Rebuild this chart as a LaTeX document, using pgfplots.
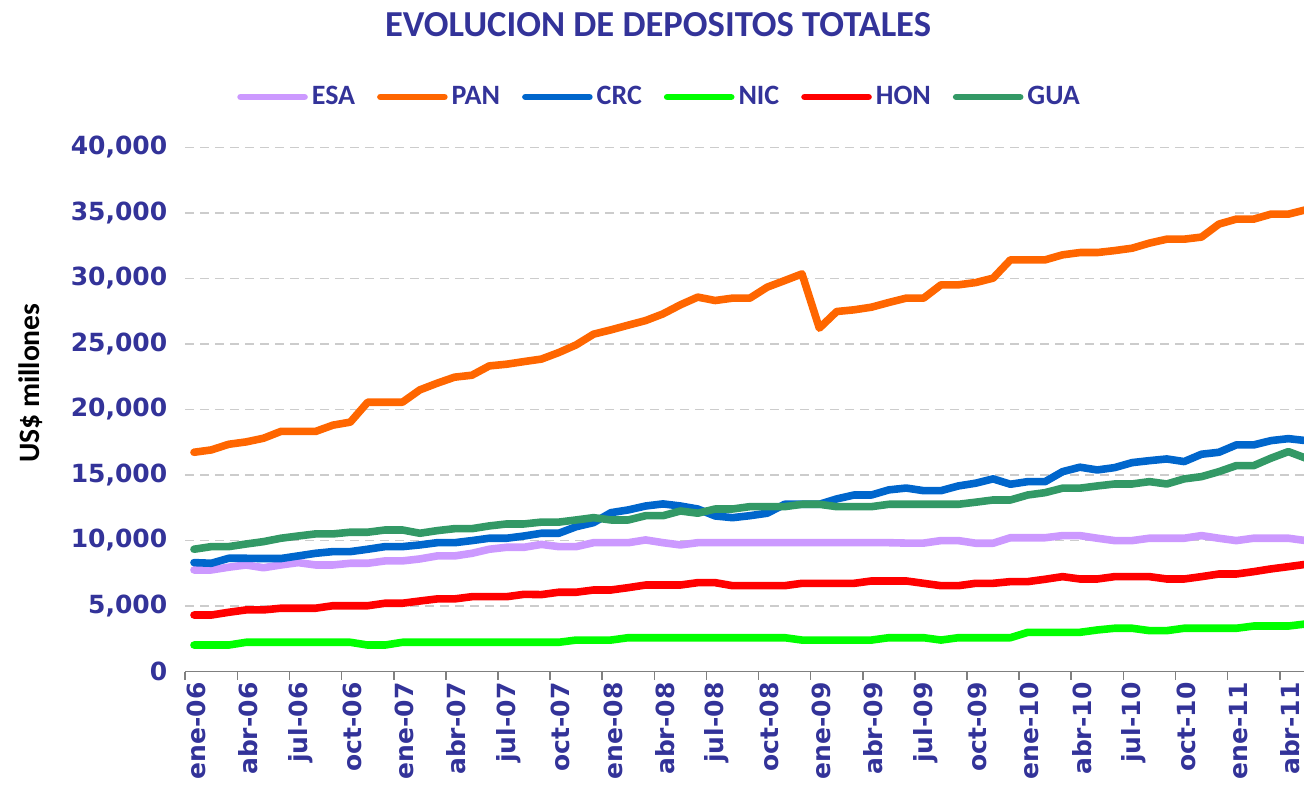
\documentclass[border=0pt]{standalone}
\usepackage{fontspec}
\setmainfont{DejaVu Sans}
\newfontfamily\calibri{Carlito}
\usepackage{pgfplots}
\usepackage{pgfplotstable}
\pgfplotsset{compat=1.18}
\usetikzlibrary{calc}

\definecolor{txtblue}{HTML}{333399}
\definecolor{cESA}{HTML}{CC99FF}
\definecolor{cPAN}{HTML}{FF6600}
\definecolor{cCRC}{HTML}{0066CC}
\definecolor{cNIC}{HTML}{00FF00}
\definecolor{cHON}{HTML}{FF0000}
\definecolor{cGUA}{HTML}{339966}

% depositos totales, US$ millones, ene-06 .. may-11
\pgfplotstableread{
i  ESA   PAN   CRC   NIC  HON  GUA
0  7750  16730 8310  2020 4310 9330
1  7750  16910 8260  2020 4310 9530
2  7960  17340 8640  2020 4520 9530
3  8130  17520 8640  2230 4700 9730
4  7920  17800 8620  2230 4700 9910
5  8130  18320 8620  2230 4830 10170
6  8310  18320 8820  2230 4830 10340
7  8130  18320 9020  2230 4830 10500
8  8130  18800 9150  2230 5020 10500
9  8260  19030 9150  2230 5020 10630
10 8260  20550 9330  2020 5020 10630
11 8440  20550 9530  2020 5210 10800
12 8440  20550 9530  2230 5210 10800
13 8590  21490 9660  2230 5380 10550
14 8820  22000 9830  2230 5540 10750
15 8820  22460 9830  2230 5540 10900
16 9020  22610 9990  2230 5710 10900
17 9330  23320 10170 2230 5710 11110
18 9480  23450 10170 2230 5710 11260
19 9480  23650 10340 2230 5890 11260
20 9700  23840 10550 2230 5870 11400
21 9530  24340 10550 2230 6050 11400
22 9530  24925 11050 2400 6050 11565
23 9830  25740 11360 2400 6220 11740
24 9830  26070 12120 2400 6220 11565
25 9830  26430 12330 2580 6400 11565
26 10040 26780 12630 2580 6600 11890
27 9830  27290 12790 2580 6600 11890
28 9660  27980 12630 2580 6600 12250
29 9830  28570 12400 2580 6780 12080
30 9830  28310 11870 2580 6780 12400
31 9830  28490 11740 2580 6550 12400
32 9830  28490 11890 2580 6550 12580
33 9830  29330 12080 2580 6550 12580
34 9830  29830 12760 2580 6550 12580
35 9830  30340 12760 2400 6730 12760
36 9830  26200 12760 2400 6730 12760
37 9830  27470 13170 2400 6730 12580
38 9830  27600 13470 2400 6730 12580
39 9830  27800 13470 2400 6910 12580
40 9830  28160 13860 2580 6910 12760
41 9800  28490 14000 2580 6910 12760
42 9800  28490 13800 2580 6730 12760
43 9990  29505 13800 2400 6550 12760
44 9990  29505 14160 2580 6550 12760
45 9790  29680 14370 2580 6730 12920
46 9790  30015 14700 2580 6730 13090
47 10210 31414 14290 2580 6860 13090
48 10210 31414 14490 2990 6860 13470
49 10210 31414 14490 2990 7040 13650
50 10370 31795 15250 2990 7240 13990
51 10370 31970 15590 2990 7060 13990
52 10170 31970 15380 3170 7060 14160
53 9990  32120 15560 3300 7240 14310
54 9990  32300 15940 3300 7240 14310
55 10170 32690 16090 3120 7240 14490
56 10170 32990 16220 3120 7060 14310
57 10170 32990 16020 3300 7060 14700
58 10370 33150 16580 3300 7240 14870
59 10170 34140 16730 3300 7440 15250
60 9990  34520 17290 3300 7440 15710
61 10170 34520 17290 3470 7620 15710
62 10170 34900 17620 3470 7830 16280
63 10170 34900 17770 3470 8000 16780
64 9990  35230 17620 3630 8180 16280
}\deposits

\begin{document}
\begin{tikzpicture}
\begin{axis}[
    name=ax,
    scale only axis,
    width=559.35pt, height=262.1pt,
    xmin=-0.5, xmax=63.9,
    ymin=0, ymax=40000,
    axis x line*=bottom,
    axis y line*=left,
    x axis line style={gray, line width=0.8pt},
    y axis line style={draw=none},
    % etiquetas de meses en el centro de cada categoria
    xtick={0,3,...,63},
    xticklabels={ene-06,abr-06,jul-06,oct-06,ene-07,abr-07,jul-07,oct-07,
                 ene-08,abr-08,jul-08,oct-08,ene-09,abr-09,jul-09,oct-09,
                 ene-10,abr-10,jul-10,oct-10,ene-11,abr-11},
    major tick length=0pt,
    % marcas entre categorias
    extra x ticks={-0.5,2.5,...,62.5},
    extra x tick labels={},
    extra x tick style={major tick length=4pt, tick align=outside,
        tick style={gray, line width=0.8pt}, grid=none},
    xticklabel style={rotate=90, anchor=east, text=txtblue,
        font=\bfseries\fontsize{12.5}{14}\selectfont, xshift=-2pt, yshift=-1pt},
    ytick={0,5000,...,40000},
    scaled y ticks=false,
    yticklabel style={xshift=-5.5pt, text=txtblue, font=\bfseries\fontsize{12.5}{14}\selectfont,
        /pgf/number format/.cd, fixed, 1000 sep={,}, assume math mode=true},
    ymajorgrids,
    grid style={color=black!20, line width=0.7pt, dash pattern=on 4.2pt off 3.3pt},
    title={EVOLUCION DE DEPOSITOS TOTALES},
    title style={at={(axis description cs:0.4226,1.212)}, anchor=center,
        text=txtblue, font=\calibri\bfseries\fontsize{18.3}{22}\selectfont},
    ylabel={US\$ millones},
    ylabel style={at={(axis description cs:-0.1384,0.550)}, anchor=center,
        font=\calibri\bfseries\fontsize{14.8}{17}\selectfont},
    legend columns=6,
    legend style={draw=none, fill=none, at={(axis description cs:0.4248,1.096)},
        anchor=center, text=txtblue,
        font=\calibri\bfseries\fontsize{14}{16}\selectfont,
        /tikz/every even column/.append style={column sep=9pt}},
    legend image code/.code={\draw[#1, line width=3.3pt, line cap=round]
        (0pt,0pt) -- (32pt,0pt);},
    every axis plot/.append style={line width=3.8pt, line join=round, line cap=round},
]
\addplot[cESA] table[x=i, y=ESA] {\deposits};
\addlegendentry{ESA}
\addplot[cPAN] table[x=i, y=PAN] {\deposits};
\addlegendentry{PAN}
\addplot[cCRC] table[x=i, y=CRC] {\deposits};
\addlegendentry{CRC}
\addplot[cNIC] table[x=i, y=NIC] {\deposits};
\addlegendentry{NIC}
\addplot[cHON] table[x=i, y=HON] {\deposits};
\addlegendentry{HON}
\addplot[cGUA] table[x=i, y=GUA] {\deposits};
\addlegendentry{GUA}
\end{axis}
\pgfresetboundingbox
\path ($(ax.south west)+(-92.65pt,-56.25pt)$) rectangle ($(ax.south west)+(559.35pt,335.75pt)$);
\end{tikzpicture}
\end{document}
